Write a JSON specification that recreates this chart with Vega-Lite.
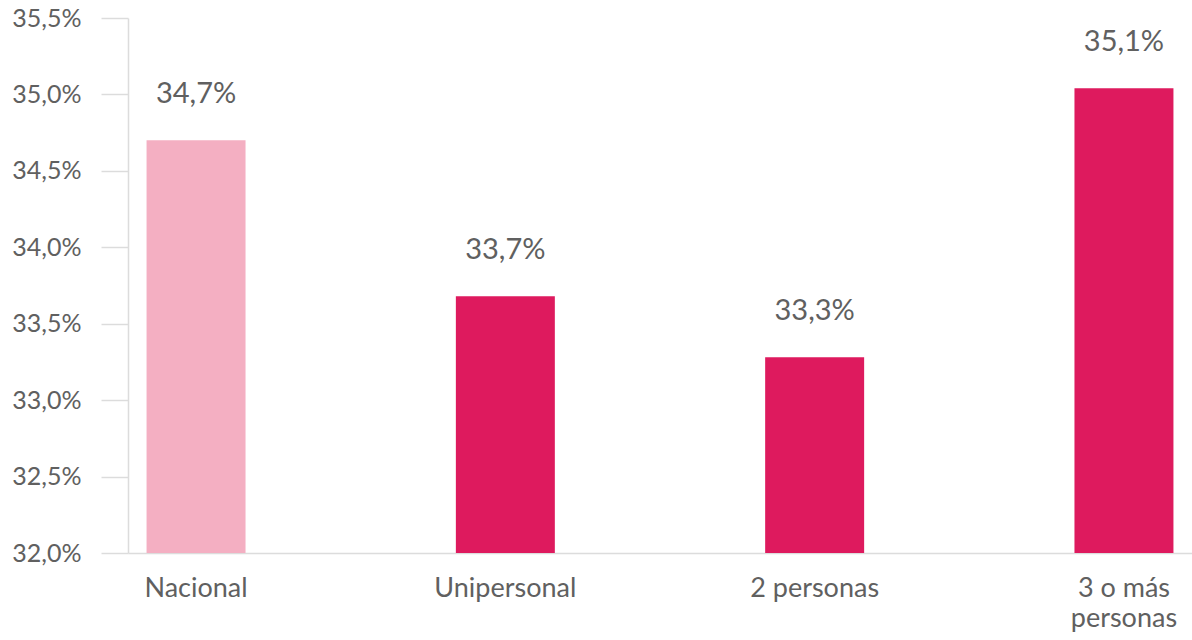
{
  "$schema": "https://vega.github.io/schema/vega-lite/v6.json",
  "width": 1064,
  "height": 535,
  "autosize": {"type": "none"},
  "padding": {"left": 128, "top": 18, "right": 0, "bottom": 87},
  "background": "white",
  "config": {
    "view": {"stroke": null},
    "font": "Lato",
    "axis": {"labelFont": "Lato", "labelFontWeight": "normal", "labelColor": "#606060", "domainColor": "#dcdcdc", "tickColor": "#dcdcdc", "grid": false}
  },
  "data": {
    "values": [
      {"grupo": "Nacional", "valor": 34.70, "etiqueta": "34,7%", "tipo": "nacional"},
      {"grupo": "Unipersonal", "valor": 33.68, "etiqueta": "33,7%", "tipo": "hogar"},
      {"grupo": "2 personas", "valor": 33.28, "etiqueta": "33,3%", "tipo": "hogar"},
      {"grupo": "3 o más personas", "valor": 35.04, "etiqueta": "35,1%", "tipo": "hogar"}
    ]
  },
  "encoding": {
    "x": {
      "field": "grupo",
      "type": "nominal",
      "sort": null,
      "scale": {"paddingInner": 0.68, "paddingOuter": 0.06},
      "axis": {
        "title": null,
        "labelAngle": 0,
        "labelFontSize": 27,
        "labelPadding": 22,
        "ticks": false,
        "domainWidth": 1.5,
        "labelLineHeight": 30,
        "labelExpr": "datum.value == '3 o más personas' ? ['3 o más', 'personas'] : datum.value"
      }
    },
    "y": {
      "field": "valor",
      "type": "quantitative",
      "scale": {"domain": [32, 35.5], "zero": false, "nice": false, "clamp": true},
      "axis": {
        "title": null,
        "values": [32, 32.5, 33, 33.5, 34, 34.5, 35, 35.5],
        "labelExpr": "replace(format(datum.value, '.1f'), '.', ',') + '%'",
        "labelFontSize": 25,
        "tickSize": 27,
        "tickWidth": 1.5,
        "domainWidth": 1.5,
        "labelPadding": 20
      }
    }
  },
  "layer": [
    {
      "mark": {"type": "bar"},
      "encoding": {
        "color": {
          "field": "tipo",
          "type": "nominal",
          "scale": {"domain": ["nacional", "hogar"], "range": ["#f4afc2", "#de1a5e"]},
          "legend": null
        }
      }
    },
    {
      "mark": {"type": "text", "baseline": "bottom", "dy": -31, "fontSize": 29, "fontWeight": "normal", "color": "#606060"},
      "encoding": {"text": {"field": "etiqueta"}}
    }
  ]
}
